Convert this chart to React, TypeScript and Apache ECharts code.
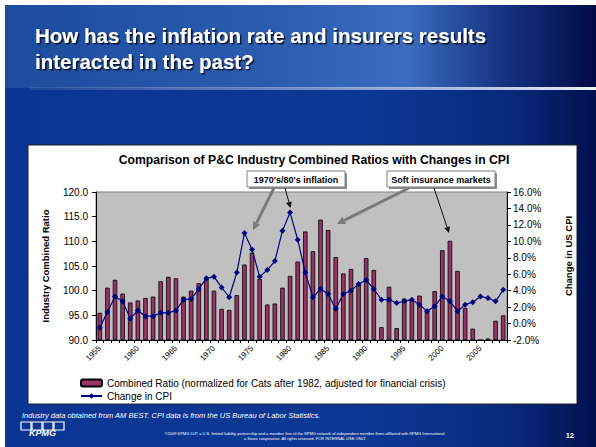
import React, { useEffect, useRef } from "react";
import * as echarts from "echarts";

const years = [
  "1955", "1956", "1957", "1958", "1959", "1960", "1961", "1962", "1963", "1964",
  "1965", "1966", "1967", "1968", "1969", "1970", "1971", "1972", "1973", "1974",
  "1975", "1976", "1977", "1978", "1979", "1980", "1981", "1982", "1983", "1984",
  "1985", "1986", "1987", "1988", "1989", "1990", "1991", "1992", "1993", "1994",
  "1995", "1996", "1997", "1998", "1999", "2000", "2001", "2002", "2003", "2004",
  "2005", "2006", "2007", "2008",
];

const combinedRatio = [
  95.5, 100.6, 102.2, 99.4, 97.6, 98.0, 98.5, 98.8, 101.9, 102.8,
  102.5, 98.8, 100.0, 101.5, 102.5, 100.0, 96.3, 96.1, 99.1, 105.3,
  107.7, 102.4, 97.2, 97.4, 100.6, 103.0, 105.9, 112.0, 108.0, 114.4,
  112.3, 106.8, 103.5, 104.4, 101.3, 106.6, 104.2, 92.6, 100.8, 92.4,
  98.4, 98.1, 99.0, 96.0, 99.9, 108.2, 110.1, 104.0, 96.5, 92.3,
  90.0, 90.3, 93.9, 95.0,
];

const cpiChange = [
  -0.5, 1.4, 3.3, 2.7, 0.6, 1.6, 0.9, 0.9, 1.3, 1.3,
  1.6, 2.9, 3.0, 4.2, 5.5, 5.7, 4.4, 3.2, 6.2, 11.0,
  9.0, 5.7, 6.5, 7.6, 11.3, 13.5, 10.2, 6.2, 3.2, 4.2,
  3.6, 1.8, 3.6, 4.0, 4.8, 5.3, 4.2, 2.9, 2.9, 2.5,
  2.7, 2.9, 2.3, 1.5, 2.1, 3.3, 2.7, 1.5, 2.3, 2.6,
  3.3, 3.1, 2.7, 4.1,
];

const ratioAxis = { min: 90, max: 120, interval: 5 };
const cpiAxis = { min: -2, max: 16, interval: 2 };

const seriesNames = [
  "Combined Ratio (normalized for Cats after 1982, adjusted for financial crisis)",
  "Change in CPI",
];

const FONT = "'Liberation Sans', Arial, sans-serif";

function arrow(x1: number, y1: number, x2: number, y2: number, color: string, w: number, head: number) {
  const a = Math.atan2(y2 - y1, x2 - x1);
  const bx = x2 - head * Math.cos(a);
  const by = y2 - head * Math.sin(a);
  const px = -Math.sin(a) * head * 0.5;
  const py = Math.cos(a) * head * 0.5;
  return [
    { type: "line", z: 100, shape: { x1, y1, x2: bx, y2: by }, style: { stroke: color, lineWidth: w } },
    { type: "polygon", z: 100, shape: { points: [[x2, y2], [bx + px, by + py], [bx - px, by - py]] }, style: { fill: color } },
  ];
}

function annotationBox(x: number, y: number, w: number, h: number, label: string) {
  return [
    { type: "rect", z: 99, shape: { x: x + 2, y: y + 2, width: w, height: h }, style: { fill: "#8c8c8c" } },
    { type: "rect", z: 100, shape: { x, y, width: w, height: h }, style: { fill: "#ffffff", stroke: "#7f7f7f", lineWidth: 1 } },
    {
      type: "text", z: 101, x: x + w / 2, y: y + h / 2 + 0.5,
      style: { text: label, fill: "#000", font: `bold 9px ${FONT}`, align: "center", verticalAlign: "middle" },
    },
  ];
}

export default function App() {
  const ref = useRef<HTMLDivElement>(null);

  useEffect(() => {
    if (!ref.current) return;
    const chart = echarts.init(ref.current, null, { renderer: "svg" });

    const titleStyle = {
      fill: "#ffffff", font: `bold 20.5px ${FONT}`, verticalAlign: "middle",
      textShadowColor: "rgba(0,0,0,0.8)", textShadowOffsetX: 1.5, textShadowOffsetY: 1.5, textShadowBlur: 1,
    };

    const graphics: any[] = [
      // slide background
      {
        type: "rect", z: -100, shape: { x: 5, y: 5, width: 591, height: 83 },
        style: {
          fill: {
            type: "linear", x: 0, y: 0, x2: 1, y2: 0,
            colorStops: [
              { offset: 0, color: "#1d4c9e" },
              { offset: 0.45, color: "#2a5cb0" },
              { offset: 0.68, color: "#3b6cbf" },
              { offset: 0.85, color: "#14317f" },
              { offset: 1, color: "#020a45" },
            ],
          },
        },
      },
      {
        type: "rect", z: -100, shape: { x: 5, y: 88, width: 591, height: 359 },
        style: {
          fill: {
            type: "linear", x: 0, y: 0, x2: 1, y2: 0,
            colorStops: [
              { offset: 0, color: "#0b3593" },
              { offset: 0.6, color: "#0c3895" },
              { offset: 0.85, color: "#082a7e" },
              { offset: 1, color: "#02104e" },
            ],
          },
        },
      },
      {
        type: "rect", z: -99, shape: { x: 30, y: 87, width: 566, height: 3 },
        style: {
          fill: {
            type: "linear", x: 0, y: 0, x2: 1, y2: 0,
            colorStops: [
              { offset: 0, color: "rgba(190,205,235,0.1)" },
              { offset: 0.5, color: "rgba(190,205,235,0.6)" },
              { offset: 1, color: "rgba(235,240,250,1)" },
            ],
          },
        },
      },
      // title
      { type: "text", z: 10, x: 35, y: 35, style: { text: "How has the inflation rate and insurers results", ...titleStyle } },
      { type: "text", z: 10, x: 35, y: 61, style: { text: "interacted in the past?", ...titleStyle } },
      // chart box
      {
        type: "rect", z: -50, shape: { x: 28, y: 145, width: 549, height: 259 },
        style: { fill: "#ffffff", stroke: "#222", lineWidth: 1 },
      },
      // chart title
      {
        type: "text", z: 10, x: 314, y: 160,
        style: {
          text: "Comparison of P&C Industry Combined Ratios with Changes in CPI",
          fill: "#000", font: `bold 12.2px ${FONT}`, align: "center", verticalAlign: "middle",
        },
      },
      // axis names
      {
        type: "text", z: 10, x: 45, y: 266, rotation: Math.PI / 2,
        style: { text: "Industry Combined Ratio", fill: "#000", font: `bold 9.5px ${FONT}`, align: "center", verticalAlign: "middle" },
      },
      {
        type: "text", z: 10, x: 568, y: 256, rotation: Math.PI / 2,
        style: { text: "Change in US CPI", fill: "#000", font: `bold 9.5px ${FONT}`, align: "center", verticalAlign: "middle" },
      },
      // annotations
      ...annotationBox(247, 171, 98, 16, "1970's/80's inflation"),
      ...annotationBox(387, 171, 108, 16, "Soft insurance markets"),
      ...arrow(274, 188, 253, 230, "#7a7a7a", 3, 8),
      ...arrow(285, 188, 290.5, 208, "#111", 1, 6),
      ...arrow(409, 188, 337, 224, "#7a7a7a", 3, 8),
      ...arrow(434, 188, 449, 233, "#111", 1, 6),
      // footer
      {
        type: "text", z: 10, x: 22, y: 415,
        style: {
          text: "Industry data obtained from AM BEST. CPI data is from the US Bureau of Labor Statistics.",
          fill: "#ffffff", font: `italic 7.5px ${FONT}`, verticalAlign: "middle",
        },
      },
      {
        type: "text", z: 10, x: 305, y: 433,
        style: {
          text: "©2009 KPMG LLP, a U.S. limited liability partnership and a member firm of the KPMG network of independent member firms affiliated with KPMG International,",
          fill: "#ffffff", font: `4px ${FONT}`, align: "center", verticalAlign: "middle",
        },
      },
      {
        type: "text", z: 10, x: 305, y: 438.5,
        style: {
          text: "a Swiss cooperative. All rights reserved. FOR INTERNAL USE ONLY",
          fill: "#ffffff", font: `4px ${FONT}`, align: "center", verticalAlign: "middle",
        },
      },
      {
        type: "text", z: 10, x: 574, y: 435,
        style: { text: "12", fill: "#ffffff", font: `bold 7.5px ${FONT}`, align: "right", verticalAlign: "middle" },
      },
      // KPMG logo
      { type: "rect", z: 10, shape: { x: 21, y: 422, width: 10, height: 8 }, style: { fill: "none", stroke: "#fff", lineWidth: 1.2 } },
      { type: "rect", z: 10, shape: { x: 32, y: 422, width: 10, height: 8 }, style: { fill: "none", stroke: "#fff", lineWidth: 1.2 } },
      { type: "rect", z: 10, shape: { x: 43, y: 422, width: 10, height: 8 }, style: { fill: "none", stroke: "#fff", lineWidth: 1.2 } },
      { type: "rect", z: 10, shape: { x: 54, y: 422, width: 10, height: 8 }, style: { fill: "none", stroke: "#fff", lineWidth: 1.2 } },
      {
        type: "text", z: 10, x: 42.5, y: 433,
        style: { text: "KPMG", fill: "#ffffff", font: `bold italic 9px ${FONT}`, align: "center", verticalAlign: "middle" },
      },
    ];

    chart.setOption({
      animation: false,
      textStyle: { fontFamily: FONT },
      grid: {
        left: 96, top: 192, width: 411, height: 148,
        show: true, backgroundColor: "#c0c0c0", borderColor: "#808080", borderWidth: 1,
        containLabel: false,
      },
      legend: {
        orient: "vertical", left: 75, top: 373, itemGap: 3,
        itemWidth: 21, itemHeight: 7,
        textStyle: { fontSize: 10, color: "#000", fontFamily: FONT },
        data: seriesNames,
      },
      xAxis: {
        type: "category", data: years, boundaryGap: true,
        axisLine: { show: true, onZero: false, lineStyle: { color: "#000", width: 1 } },
        axisTick: { show: true, interval: 0, length: 3, lineStyle: { color: "#000" } },
        axisLabel: { interval: 4, rotate: 45, fontSize: 8, color: "#000", margin: 7, fontFamily: FONT },
        splitLine: { show: false },
      },
      yAxis: [
        {
          type: "value", position: "left", ...ratioAxis, startValue: ratioAxis.min,
          axisLine: { show: true, lineStyle: { color: "#000" } },
          axisTick: { show: true, length: 4, lineStyle: { color: "#000" } },
          axisLabel: { fontSize: 10, color: "#000", margin: 8, formatter: (v: number) => v.toFixed(1), fontFamily: FONT },
          splitLine: { show: false },
        },
        {
          type: "value", position: "right", ...cpiAxis,
          axisLine: { show: true, lineStyle: { color: "#000" } },
          axisTick: { show: true, length: 4, lineStyle: { color: "#000" } },
          axisLabel: { fontSize: 10, color: "#000", margin: 6, formatter: (v: number) => v.toFixed(1) + "%", fontFamily: FONT },
          splitLine: { show: false },
        },
      ],
      series: [
        {
          name: seriesNames[0], type: "bar", yAxisIndex: 0, data: combinedRatio,
          barWidth: 4.5, clip: true,
          itemStyle: { color: "#993366", borderColor: "#000", borderWidth: 0.8 },
        },
        {
          name: seriesNames[1], type: "line", yAxisIndex: 1, data: cpiChange,
          symbol: "diamond", symbolSize: 6, showAllSymbol: true,
          lineStyle: { color: "#000080", width: 1.2 },
          itemStyle: { color: "#000080" },
        },
      ],
      graphic: { elements: graphics },
    });

    return () => chart.dispose();
  }, []);

  return (
    <div
      ref={ref}
      style={{ position: "fixed", left: 0, top: 0, width: 596, height: 447, background: "#fff" }}
    />
  );
}
